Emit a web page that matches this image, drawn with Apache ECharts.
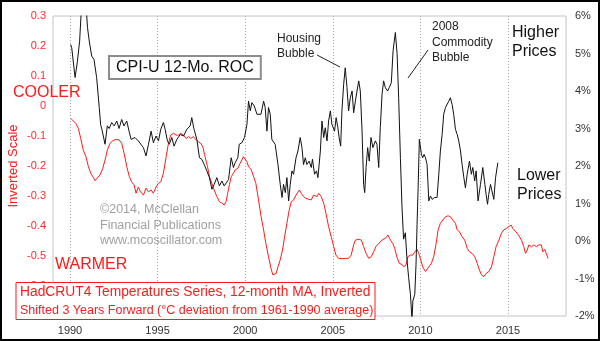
<!DOCTYPE html>
<html>
<head>
<meta charset="utf-8">
<script src="https://cdn.jsdelivr.net/npm/echarts@6/dist/echarts.min.js"></script>
<style>
  html, body { margin: 0; padding: 0; background: #fff; }
  #chart { width: 600px; height: 341px; }
</style>
</head>
<body>
<div id="chart"></div>
<script>
// CPI-U 12-month rate of change (%), right axis
const cpiYears = [
  1990.04, 1990.10, 1990.29, 1990.42, 1990.55, 1990.65, 1990.80, 1990.92, 1991.00, 1991.10,
  1991.24, 1991.37, 1991.52, 1991.67, 1991.75, 1991.82, 1991.90, 1992.00, 1992.13, 1992.24,
  1992.38, 1992.52, 1992.67, 1992.80, 1992.95, 1993.08, 1993.24, 1993.37, 1993.49, 1993.71,
  1993.90, 1994.00, 1994.19, 1994.34, 1994.48, 1994.63, 1994.76, 1994.91, 1995.05, 1995.18,
  1995.33, 1995.43, 1995.56, 1995.67, 1995.81, 1995.94, 1996.10, 1996.29, 1996.48, 1996.67,
  1996.86, 1996.95, 1997.08, 1997.24, 1997.39, 1997.52, 1997.66, 1997.81, 1997.96, 1998.10,
  1998.23, 1998.38, 1998.53, 1998.67, 1998.80, 1998.92, 1999.05, 1999.20, 1999.33, 1999.43,
  1999.58, 1999.66, 1999.81, 1999.96, 2000.10, 2000.19, 2000.29, 2000.38, 2000.52, 2000.67,
  2000.76, 2000.90, 2001.05, 2001.14, 2001.24, 2001.33, 2001.43, 2001.52, 2001.71, 2001.87,
  2002.00, 2002.10, 2002.19, 2002.29, 2002.38, 2002.48, 2002.57, 2002.67, 2002.76, 2002.90,
  2003.01, 2003.14, 2003.24, 2003.33, 2003.43, 2003.52, 2003.65, 2003.77, 2003.84, 2003.96,
  2004.07, 2004.15, 2004.29, 2004.38, 2004.48, 2004.57, 2004.67, 2004.76, 2004.86, 2004.95,
  2005.10, 2005.19, 2005.29, 2005.36, 2005.45, 2005.52, 2005.62, 2005.71, 2005.81, 2005.90,
  2006.00, 2006.10, 2006.19, 2006.29, 2006.38, 2006.48, 2006.57, 2006.67, 2006.76, 2006.82,
  2006.90, 2006.99, 2007.08, 2007.18, 2007.29, 2007.43, 2007.52, 2007.62, 2007.71, 2007.81,
  2007.90, 2008.00, 2008.13, 2008.22, 2008.34, 2008.44, 2008.57, 2008.67, 2008.76, 2008.86,
  2008.95, 2009.04, 2009.14, 2009.24, 2009.33, 2009.43, 2009.52, 2009.57, 2009.68, 2009.75,
  2009.81, 2009.87, 2009.94, 2010.00, 2010.06, 2010.13, 2010.21, 2010.29, 2010.38, 2010.48,
  2010.57, 2010.67, 2010.81, 2010.95, 2011.05, 2011.14, 2011.24, 2011.33, 2011.43, 2011.52,
  2011.62, 2011.71, 2011.81, 2011.90, 2012.00, 2012.10, 2012.19, 2012.29, 2012.38, 2012.48,
  2012.57, 2012.67, 2012.80, 2012.91, 2012.99, 2013.10, 2013.18, 2013.29, 2013.43, 2013.56,
  2013.68, 2013.75, 2013.83, 2013.90, 2014.00, 2014.10, 2014.19, 2014.29, 2014.42
];
const cpiValues = [
  5.24, 5.15, 4.36, 4.78, 5.33, 6.20, 6.35, 6.25, 5.69, 5.33,
  4.93, 4.84, 4.36, 3.56, 3.10, 2.98, 3.00, 2.58, 3.07, 3.00,
  3.16, 3.07, 3.20, 3.00, 3.24, 3.07, 3.20, 2.93, 2.71, 2.76,
  2.67, 2.71, 2.49, 2.27, 2.58, 2.93, 2.62, 2.80, 2.67, 2.98,
  3.16, 2.98, 2.67, 2.58, 2.76, 2.53, 2.71, 2.84, 2.80, 2.98,
  3.07, 3.29, 2.98, 2.71, 2.22, 2.18, 2.04, 1.87, 1.69, 1.38,
  1.51, 1.69, 1.47, 1.60, 1.47, 1.55, 1.64, 2.22, 1.96, 2.09,
  2.22, 2.58, 2.62, 2.76, 3.11, 3.73, 3.47, 3.69, 3.60, 3.38,
  3.42, 3.38, 3.73, 3.56, 2.93, 3.56, 3.38, 2.71, 2.58, 2.04,
  1.51, 1.16, 1.51, 1.29, 1.69, 1.07, 1.51, 1.87, 1.78, 2.22,
  2.40, 2.76, 2.49, 2.04, 2.22, 2.04, 2.13, 1.96, 2.18, 1.78,
  1.87, 1.69, 2.40, 3.20, 2.76, 3.02, 2.67, 3.20, 3.47, 3.11,
  2.93, 3.29, 3.02, 2.76, 2.53, 3.47, 4.18, 4.62, 4.09, 3.47,
  3.82, 4.00, 3.42, 3.73, 4.00, 4.27, 4.00, 2.93, 1.51, 1.29,
  1.96, 2.49, 2.13, 2.76, 2.49, 2.67, 2.58, 1.96, 3.02, 3.91,
  4.27, 4.09, 4.00, 4.09, 4.22, 5.07, 5.56, 5.00, 3.80, 2.20,
  0.90, 0.05, 0.22, -0.53, -0.98, -1.42, -2.10, -1.60, -1.42, -0.62,
  0.44, 1.42, 2.71, 2.67, 2.31, 2.22, 2.31, 2.22, 2.04, 1.07,
  1.20, 1.11, 1.16, 1.16, 1.78, 2.40, 2.84, 3.38, 3.56, 3.56,
  3.73, 3.82, 3.64, 3.38, 2.98, 2.84, 2.67, 2.40, 2.04, 1.69,
  1.42, 1.78, 2.13, 1.78, 1.96, 1.60, 1.87, 1.07, 1.51, 1.96,
  1.51, 1.24, 0.98, 1.24, 1.51, 1.56, 1.11, 1.69, 2.09
];

// HadCRUT4 12-month MA, inverted and shifted 3 years forward (°C), left axis
const tempYears = [
  1990.04, 1990.33, 1990.48, 1990.61, 1990.76, 1990.91, 1991.05, 1991.18, 1991.31, 1991.43,
  1991.56, 1991.71, 1991.87, 1992.00, 1992.13, 1992.29, 1992.44, 1992.63, 1992.80, 1992.95,
  1993.09, 1993.24, 1993.39, 1993.52, 1993.66, 1993.77, 1993.90, 1994.03, 1994.19, 1994.34,
  1994.48, 1994.63, 1994.76, 1994.91, 1995.05, 1995.18, 1995.33, 1995.49, 1995.62, 1995.75,
  1995.90, 1996.05, 1996.19, 1996.32, 1996.48, 1996.63, 1996.76, 1996.90, 1997.05, 1997.20,
  1997.33, 1997.46, 1997.58, 1997.71, 1997.85, 1997.96, 1998.10, 1998.23, 1998.38, 1998.53,
  1998.67, 1998.80, 1998.91, 1999.00, 1999.10, 1999.20, 1999.33, 1999.43, 1999.58, 1999.71,
  1999.81, 1999.90, 2000.00, 2000.10, 2000.19, 2000.35, 2000.48, 2000.61, 2000.76, 2000.91,
  2001.05, 2001.18, 2001.33, 2001.47, 2001.58, 2001.68, 2001.77, 2001.87, 2002.00, 2002.13,
  2002.25, 2002.38, 2002.51, 2002.63, 2002.76, 2002.90, 2003.00, 2003.09, 2003.20, 2003.33,
  2003.47, 2003.62, 2003.77, 2003.90, 2004.00, 2004.10, 2004.19, 2004.34, 2004.48, 2004.61,
  2004.76, 2004.91, 2005.05, 2005.18, 2005.33, 2005.52, 2005.71, 2005.90, 2006.05, 2006.19,
  2006.29, 2006.48, 2006.63, 2006.76, 2006.90, 2007.05, 2007.20, 2007.33, 2007.46, 2007.62,
  2007.81, 2008.00, 2008.15, 2008.29, 2008.42, 2008.53, 2008.67, 2008.80, 2008.95, 2009.05,
  2009.18, 2009.29, 2009.43, 2009.56, 2009.68, 2009.81, 2009.90, 2010.00, 2010.13, 2010.29,
  2010.38, 2010.48, 2010.63, 2010.76, 2010.90, 2011.01, 2011.14, 2011.28, 2011.43, 2011.58,
  2011.71, 2011.85, 2012.00, 2012.10, 2012.23, 2012.38, 2012.53, 2012.67, 2012.80, 2012.95,
  2013.10, 2013.24, 2013.37, 2013.49, 2013.62, 2013.75, 2013.90, 2014.06, 2014.19, 2014.32,
  2014.48, 2014.63, 2014.76, 2014.91, 2015.05, 2015.18, 2015.27, 2015.38, 2015.52, 2015.66,
  2015.77, 2015.90, 2016.00, 2016.10, 2016.19, 2016.34, 2016.48, 2016.61, 2016.76, 2016.90,
  2016.99, 2017.10, 2017.18, 2017.29
];
const tempValues = [
  -0.041, -0.058, -0.075, -0.108, -0.147, -0.169, -0.202, -0.224, -0.236, -0.249,
  -0.240, -0.230, -0.208, -0.180, -0.147, -0.124, -0.116, -0.111, -0.113, -0.124,
  -0.158, -0.202, -0.236, -0.253, -0.263, -0.291, -0.270, -0.286, -0.297, -0.274,
  -0.286, -0.280, -0.291, -0.270, -0.258, -0.253, -0.224, -0.169, -0.124, -0.097,
  -0.091, -0.097, -0.097, -0.091, -0.097, -0.108, -0.102, -0.108, -0.102, -0.113,
  -0.119, -0.124, -0.136, -0.169, -0.202, -0.236, -0.258, -0.280, -0.302, -0.319,
  -0.324, -0.330, -0.319, -0.291, -0.262, -0.236, -0.224, -0.213, -0.208, -0.191,
  -0.180, -0.169, -0.174, -0.186, -0.202, -0.213, -0.236, -0.258, -0.313, -0.369,
  -0.413, -0.458, -0.502, -0.541, -0.563, -0.569, -0.558, -0.536, -0.513, -0.480,
  -0.436, -0.391, -0.347, -0.319, -0.313, -0.297, -0.291, -0.280, -0.291, -0.302,
  -0.308, -0.311, -0.313, -0.297, -0.297, -0.302, -0.291, -0.302, -0.324, -0.358,
  -0.402, -0.436, -0.469, -0.497, -0.508, -0.509, -0.508, -0.508, -0.497, -0.463,
  -0.447, -0.444, -0.447, -0.469, -0.491, -0.508, -0.502, -0.486, -0.469, -0.458,
  -0.447, -0.441, -0.430, -0.447, -0.458, -0.474, -0.505, -0.525, -0.528, -0.536,
  -0.530, -0.502, -0.497, -0.497, -0.486, -0.478, -0.491, -0.508, -0.536, -0.552,
  -0.547, -0.536, -0.524, -0.502, -0.458, -0.413, -0.391, -0.380, -0.369, -0.366,
  -0.369, -0.380, -0.391, -0.413, -0.419, -0.436, -0.447, -0.474, -0.486, -0.491,
  -0.502, -0.524, -0.547, -0.563, -0.569, -0.558, -0.552, -0.536, -0.502, -0.469,
  -0.447, -0.424, -0.413, -0.408, -0.402, -0.397, -0.408, -0.413, -0.424, -0.436,
  -0.447, -0.469, -0.491, -0.480, -0.463, -0.469, -0.463, -0.469, -0.463, -0.463,
  -0.486, -0.478, -0.491, -0.508
];

// Year tick labels on the x axis
const yearTicks = [1990, 1995, 2000, 2005, 2010, 2015];

const FONT = "'Liberation Sans', Arial, sans-serif";

function zip(xs, ys) {
  return xs.map((x, i) => [x, ys[i]]);
}

const chart = echarts.init(document.getElementById('chart'), null, { renderer: 'canvas' });

chart.setOption({
  animation: false,
  backgroundColor: '#ffffff',
  textStyle: { fontFamily: FONT },
  grid: {
    left: 53, right: 34, top: 16, bottom: 25,
    show: true, borderColor: '#c4c4c4', borderWidth: 1, backgroundColor: '#ffffff'
  },
  xAxis: {
    type: 'value',
    min: 1989.03,
    max: 2018.31,
    axisLine: { show: false },
    axisTick: { show: false, customValues: yearTicks },
    axisLabel: {
      customValues: yearTicks,
      color: '#333', fontSize: 11, fontFamily: FONT, margin: 9,
      formatter: v => String(Math.round(v))
    },
    splitLine: { show: true, lineStyle: { color: '#aaaaaa', type: [1, 2], width: 1 } }
  },
  yAxis: [
    {
      type: 'value', position: 'left',
      min: -0.7, max: 0.3, interval: 0.1,
      axisLine: { show: false }, axisTick: { show: false },
      splitLine: { show: false },
      axisLabel: {
        color: '#ff2a2a', fontSize: 11, fontFamily: FONT, margin: 7,
        formatter: v => String(Math.round(v * 10) / 10)
      }
    },
    {
      type: 'value', position: 'right',
      min: -2, max: 6, interval: 1,
      axisLine: { show: false }, axisTick: { show: false },
      splitLine: { show: false },
      axisLabel: {
        color: '#333', fontSize: 11, fontFamily: FONT, margin: 9,
        formatter: '{value}%'
      }
    }
  ],
  series: [
    {
      name: 'HadCRUT4',
      type: 'line', yAxisIndex: 0,
      data: zip(tempYears, tempValues),
      showSymbol: false, clip: true,
      lineStyle: { color: '#ff1a1a', width: 1 },
      z: 3
    },
    {
      name: 'CPI-U',
      type: 'line', yAxisIndex: 1,
      data: zip(cpiYears, cpiValues),
      showSymbol: false, clip: true,
      lineStyle: { color: '#111111', width: 1 },
      z: 4
    }
  ],
  graphic: [
    // outer frame
    { type: 'rect', z: 100, shape: { x: 1, y: 1, width: 598, height: 339 },
      style: { fill: 'none', stroke: '#000', lineWidth: 2 } },
    // series title box
    { type: 'text', z: 100, x: 110, y: 57,
      style: { text: 'CPI-U 12-Mo. ROC', font: '16px ' + FONT, fill: '#111',
        backgroundColor: '#fff', borderColor: '#8c8c8c', borderWidth: 2,
        padding: [3, 6, 2, 6] } },
    { type: 'text', z: 100, x: 13, y: 93,
      style: { text: 'COOLER', font: '16px ' + FONT, fill: '#ff1a1a', verticalAlign: 'middle' } },
    { type: 'text', z: 100, x: 55, y: 265,
      style: { text: 'WARMER', font: '16px ' + FONT, fill: '#ff1a1a', verticalAlign: 'middle' } },
    { type: 'text', z: 100, x: 13, y: 166, rotation: Math.PI / 2,
      style: { text: 'Inverted Scale', font: '13px ' + FONT, fill: '#ff1a1a',
        align: 'center', verticalAlign: 'middle' } },
    { type: 'text', z: 100, x: 100, y: 202,
      style: { text: '©2014, McClellan\nFinancial Publications\nwww.mcoscillator.com',
        font: '12.5px ' + FONT, fill: '#a0a0a0', lineHeight: 15.5 } },
    { type: 'text', z: 100, x: 277, y: 31,
      style: { text: 'Housing\nBubble', font: '12px ' + FONT, fill: '#222', lineHeight: 15 } },
    { type: 'line', z: 100, shape: { x1: 317, y1: 55, x2: 340, y2: 67 },
      style: { stroke: '#222', lineWidth: 1 } },
    { type: 'text', z: 100, x: 432, y: 19,
      style: { text: '2008\nCommodity\nBubble', font: '12px ' + FONT, fill: '#222', lineHeight: 15.5 } },
    { type: 'line', z: 100, shape: { x1: 428, y1: 50, x2: 408, y2: 78 },
      style: { stroke: '#222', lineWidth: 1 } },
    { type: 'text', z: 100, x: 512, y: 23,
      style: { text: 'Higher\nPrices', font: '16px ' + FONT, fill: '#111', lineHeight: 19 } },
    { type: 'text', z: 100, x: 517, y: 166.5,
      style: { text: 'Lower\nPrices', font: '16px ' + FONT, fill: '#111', lineHeight: 19 } },
    // temperature series caption
    { type: 'rect', z: 100, shape: { x: 16, y: 282.5, width: 359, height: 37 },
      style: { fill: '#fff', stroke: '#ff1a1a', lineWidth: 1 } },
    { type: 'text', z: 101, x: 20, y: 292.5,
      style: { text: 'HadCRUT4 Temperatures Series, 12-month MA, Inverted',
        font: '13.8px ' + FONT, fill: '#ff1a1a', verticalAlign: 'middle' } },
    { type: 'text', z: 101, x: 20, y: 310.5,
      style: { text: 'Shifted 3 Years Forward (°C deviation from 1961-1990 average)',
        font: '12.5px ' + FONT, fill: '#ff1a1a', verticalAlign: 'middle' } }
  ]
});
</script>
</body>
</html>
